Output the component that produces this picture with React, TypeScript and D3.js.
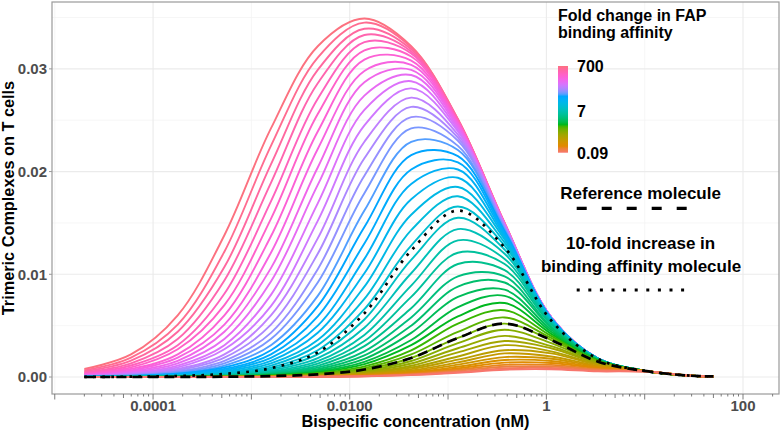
import * as d3 from "d3";

// Bispecific concentration (nM) at which every curve was read
const concentrations = [2e-5, 5.96e-5, 1.78e-4, 5.31e-4, 1.58e-3, 4.73e-3, 0.0141, 0.0422, 0.126, 0.376, 1.12, 3.35, 10, 29.9, 50];

// fold change in FAP binding affinity, one per curve (lowest first)
const foldChanges = [
  0.0935, 0.1122, 0.1346, 0.1615, 0.1938, 0.2326, 0.2791, 0.3349, 0.4019, 0.4823,
  0.5787, 0.6944, 0.8333, 1, 1.2, 1.44, 1.728, 2.074, 2.488, 2.986,
  3.583, 4.3, 5.16, 6.192, 7.43, 8.916, 10.7, 12.84, 15.41, 18.49,
  22.19, 26.62, 31.95, 38.34, 46.0, 55.21, 66.25, 79.5, 95.4, 114.5,
  137.4, 164.8, 197.8, 237.4, 284.9, 341.8, 410.2, 492.2, 590.7, 708.8,
];

// trimeric complexes on T cells, in units of 1e-4, same order as foldChanges
const complexes = [
  [0, 0, 0, 0, 0.1, 0.2, 0.7, 1.8, 4.1, 7.1, 7.5, 5.5, 5.3, 1.2, 0.5],
  [0, 0, 0, 0, 0.1, 0.3, 0.8, 2.2, 4.9, 8.4, 8.8, 6.2, 5.4, 1.2, 0.6],
  [0, 0, 0, 0, 0.1, 0.4, 1.0, 2.6, 5.9, 10.0, 10.2, 7.0, 5.5, 1.2, 0.6],
  [0, 0, 0, 0, 0.1, 0.4, 1.2, 3.1, 7.1, 11.8, 11.8, 7.8, 5.6, 1.2, 0.6],
  [0, 0, 0, 0.1, 0.2, 0.5, 1.4, 3.8, 8.4, 14.0, 13.6, 8.6, 5.7, 1.2, 0.6],
  [0, 0, 0, 0.1, 0.2, 0.6, 1.7, 4.5, 10.0, 16.5, 15.6, 9.4, 5.7, 1.2, 0.6],
  [0, 0, 0, 0.1, 0.2, 0.7, 2.1, 5.4, 12.0, 19.4, 17.8, 10.2, 5.8, 1.2, 0.6],
  [0, 0, 0, 0.1, 0.3, 0.9, 2.5, 6.4, 14.2, 23, 20, 11.0, 5.8, 1.2, 0.6],
  [0, 0, 0, 0.1, 0.4, 1.0, 3.0, 7.7, 16.9, 26, 23, 11.8, 5.8, 1.2, 0.6],
  [0, 0, 0, 0.1, 0.4, 1.3, 3.6, 9.2, 20, 31, 25, 12.5, 5.9, 1.2, 0.6],
  [0, 0, 0.1, 0.2, 0.5, 1.5, 4.3, 11.0, 24, 35, 28, 13.2, 5.9, 1.2, 0.6],
  [0, 0, 0.1, 0.2, 0.6, 1.8, 5.1, 13.1, 28, 40, 30, 13.8, 5.9, 1.2, 0.6],
  [0, 0, 0.1, 0.2, 0.7, 2.2, 6.1, 15.6, 33, 46, 33, 14.4, 5.9, 1.2, 0.6],
  [0, 0, 0.1, 0.3, 0.9, 2.6, 7.3, 18.5, 38, 52, 36, 14.9, 5.9, 1.2, 0.6],
  [0, 0, 0.1, 0.4, 1.1, 3.1, 8.7, 22, 44, 58, 38, 15.3, 5.9, 1.2, 0.6],
  [0, 0.1, 0.1, 0.4, 1.3, 3.7, 10.4, 26, 52, 65, 40, 15.7, 6.0, 1.2, 0.6],
  [0, 0.1, 0.2, 0.5, 1.5, 4.4, 12.5, 31, 59, 72, 42, 16.0, 6.0, 1.2, 0.6],
  [0, 0.1, 0.2, 0.6, 1.8, 5.3, 14.8, 36, 68, 79, 44, 16.3, 6.0, 1.2, 0.6],
  [0, 0.1, 0.2, 0.7, 2.2, 6.4, 17.7, 43, 78, 85, 46, 16.6, 6.0, 1.2, 0.6],
  [0, 0.1, 0.3, 0.9, 2.6, 7.6, 21, 50, 88, 92, 48, 16.8, 6.0, 1.2, 0.6],
  [0, 0.1, 0.4, 1.1, 3.1, 9.1, 25, 58, 98, 98, 49, 17.0, 6.0, 1.2, 0.6],
  [0, 0.1, 0.4, 1.3, 3.8, 10.9, 30, 67, 110, 104, 51, 17.2, 6.0, 1.2, 0.6],
  [0.1, 0.2, 0.5, 1.5, 4.5, 13.0, 35, 78, 121, 110, 52, 17.3, 6.0, 1.2, 0.6],
  [0.1, 0.2, 0.6, 1.8, 5.4, 15.5, 41, 89, 133, 115, 53, 17.4, 6.0, 1.2, 0.6],
  [0.1, 0.2, 0.7, 2.2, 6.5, 18.4, 48, 101, 144, 120, 53, 17.5, 6.0, 1.2, 0.6],
  [0.1, 0.3, 0.9, 2.6, 7.7, 22, 56, 114, 155, 124, 54, 17.6, 6.0, 1.2, 0.6],
  [0.1, 0.4, 1.1, 3.2, 9.2, 26, 66, 128, 166, 128, 55, 17.7, 6.0, 1.2, 0.6],
  [0.1, 0.4, 1.3, 3.8, 11.0, 31, 76, 143, 176, 131, 55, 17.7, 6.0, 1.2, 0.6],
  [0.2, 0.5, 1.5, 4.5, 13.2, 36, 88, 158, 185, 134, 56, 17.8, 6.0, 1.2, 0.6],
  [0.2, 0.6, 1.8, 5.4, 15.7, 43, 101, 173, 194, 136, 56, 17.8, 6.0, 1.2, 0.6],
  [0.2, 0.7, 2.2, 6.5, 18.7, 50, 115, 188, 202, 138, 56, 17.8, 6.0, 1.2, 0.6],
  [0.3, 0.9, 2.6, 7.8, 22, 59, 130, 202, 209, 140, 57, 17.9, 6.0, 1.2, 0.6],
  [0.4, 1.1, 3.2, 9.3, 26, 69, 146, 216, 215, 142, 57, 17.9, 6.0, 1.2, 0.6],
  [0.4, 1.3, 3.8, 11.1, 31, 79, 162, 229, 221, 143, 57, 17.9, 6.0, 1.2, 0.6],
  [0.5, 1.5, 4.6, 13.3, 37, 92, 179, 242, 225, 144, 57, 17.9, 6.0, 1.2, 0.6],
  [0.6, 1.8, 5.4, 15.8, 43, 105, 196, 253, 230, 145, 57, 17.9, 6.0, 1.2, 0.6],
  [0.7, 2.2, 6.5, 18.8, 51, 120, 213, 263, 233, 146, 57, 17.9, 6.0, 1.2, 0.6],
  [0.9, 2.7, 7.8, 22, 60, 135, 229, 272, 236, 147, 58, 18.0, 6.0, 1.2, 0.6],
  [1.1, 3.2, 9.3, 27, 69, 152, 245, 281, 239, 147, 58, 18.0, 6.0, 1.2, 0.6],
  [1.3, 3.8, 11.1, 31, 80, 169, 260, 288, 241, 148, 58, 18.0, 6.0, 1.2, 0.6],
  [1.5, 4.6, 13.3, 37, 93, 187, 274, 294, 243, 148, 58, 18.0, 6.0, 1.2, 0.6],
  [1.8, 5.5, 15.8, 44, 106, 204, 287, 299, 245, 148, 58, 18.0, 6.0, 1.2, 0.6],
  [2.2, 6.5, 18.9, 51, 121, 222, 298, 304, 246, 149, 58, 18.0, 6.0, 1.2, 0.6],
  [2.7, 7.8, 22, 60, 137, 239, 309, 308, 247, 149, 58, 18.0, 6.0, 1.2, 0.6],
  [3.2, 9.3, 27, 70, 154, 256, 318, 312, 248, 149, 58, 18.0, 6.0, 1.2, 0.6],
  [3.8, 11.2, 31, 81, 171, 271, 326, 315, 249, 149, 58, 18.0, 6.0, 1.2, 0.6],
  [4.6, 13.3, 37, 94, 189, 286, 333, 317, 250, 149, 58, 18.0, 6.0, 1.2, 0.6],
  [5.5, 15.9, 44, 107, 207, 299, 339, 319, 250, 149, 58, 18.0, 6.0, 1.2, 0.6],
  [6.5, 18.9, 51, 122, 225, 311, 345, 321, 251, 150, 58, 18.0, 6.0, 1.2, 0.6],
  [7.8, 22, 60, 138, 242, 322, 349, 322, 251, 150, 58, 18.0, 6.0, 1.2, 0.6],
];

// black overlay curves, same units
const referenceMolecule = [0, 0, 0.1, 0.3, 0.9, 2.6, 7.3, 18.5, 38, 52, 36, 14.9, 5.9, 1.2, 0.6];
const tenFoldMolecule = [0.1, 0.3, 1.0, 3.0, 8.6, 24, 62, 123, 162, 126, 55, 17.6, 6.0, 1.2, 0.6];

const VALUE_UNIT = 1e-4;

const yTicks = [0, 0.01, 0.02, 0.03];
const yMinorTicks = [0.005, 0.015, 0.025, 0.035];
const xTicks = [1e-4, 1e-2, 1, 100];
const xTickLabels = ["0.0001", "0.0100", "1", "100"];
const xMinorTicks = [1e-5, 1e-3, 0.1, 10];
const logTickDecades = [1e-5, 1e-4, 1e-3, 1e-2, 0.1, 1, 10, 100];
const logTickSteps = [1, 2, 3, 4, 5, 6, 7, 8, 9];
const legendBreaks = [0.09, 7, 700];
const legendBreakLabels = ["0.09", "7", "700"];

const W = 782;
const H = 432;
const FONT = "'Liberation Sans', Arial, Helvetica, sans-serif";

// R / ggplot style hcl() colour (polar CIE-LUV) to hex
function hclColor(h: number, c = 100, l = 65): string {
  const hr = (h * Math.PI) / 180;
  const U = c * Math.cos(hr);
  const V = c * Math.sin(hr);
  const Xn = 95.047, Yn = 100, Zn = 108.883;
  const un = (4 * Xn) / (Xn + 15 * Yn + 3 * Zn);
  const vn = (9 * Yn) / (Xn + 15 * Yn + 3 * Zn);
  const Y = l > 8 ? Yn * Math.pow((l + 16) / 116, 3) : (Yn * l) / 903.3;
  const u = U / (13 * l) + un;
  const v = V / (13 * l) + vn;
  const X = (9 * Y * u) / (4 * v);
  const Z = -X / 3 - 5 * Y + (3 * Y) / v;
  const lin = [
    3.240479 * X - 1.53715 * Y - 0.498535 * Z,
    -0.969256 * X + 1.875992 * Y + 0.041556 * Z,
    0.055648 * X - 0.204043 * Y + 1.057311 * Z,
  ].map((t) => t / 100);
  const gam = (t: number) => {
    const s = Math.max(0, Math.min(1, t));
    return s <= 0.0031308 ? 12.92 * s : 1.055 * Math.pow(s, 1 / 2.4) - 0.055;
  };
  const [r, g, b] = lin.map((t) => Math.round(gam(t) * 255));
  return d3.rgb(r, g, b).formatHex();
}

export default function App() {
  const panel = { left: 52, right: 779, top: 2, bottom: 394 };

  const x = d3.scaleLog().domain([10 ** -5.028, 10 ** 2.366]).range([panel.left, panel.right]);
  const y = d3.scaleLinear().domain([-0.001655, 0.03651]).range([panel.bottom, panel.top]);

  const hue = d3
    .scaleLog()
    .domain([foldChanges[0], foldChanges[foldChanges.length - 1]])
    .range([15, 15 + (360 * (foldChanges.length - 1)) / foldChanges.length]);

  const line = d3
    .line<[number, number]>()
    .x((d) => x(d[0]))
    .y((d) => y(d[1] * VALUE_UNIT))
    .curve(d3.curveCatmullRom.alpha(0.5));

  const toPoints = (vals: number[]) => vals.map((v, i) => [concentrations[i], v] as [number, number]);

  // legend colour bar
  const bar = { x: 558, w: 10, top: 66, bottom: 152.7 };
  const legendY = d3
    .scaleLog()
    .domain([foldChanges[0], foldChanges[foldChanges.length - 1]])
    .range([bar.bottom, bar.top]);
  const gradStops = d3.range(0, 41).map((i) => i / 40);
  const [h0, h1] = hue.range();

  // log ticks under the x axis
  const logTicks = logTickDecades
    .flatMap((dec) => logTickSteps.map((s) => ({ v: dec * s, s })))
    .filter((t) => x(t.v) >= panel.left && x(t.v) <= panel.right);

  const order = d3.range(complexes.length).reverse();

  return (
    <svg
      width={W}
      height={H}
      style={{ position: "absolute", left: 0, top: 0, background: "#fff" }}
      fontFamily={FONT}
    >
      <defs>
        <linearGradient id="foldBar" x1="0" y1="1" x2="0" y2="0">
          {gradStops.map((t) => (
            <stop key={t} offset={t} stopColor={hclColor(h0 + t * (h1 - h0))} />
          ))}
        </linearGradient>
        <clipPath id="panelClip">
          <rect x={panel.left} y={panel.top} width={panel.right - panel.left} height={panel.bottom - panel.top} />
        </clipPath>
      </defs>
      <rect width={W} height={H} fill="#fff" />

      {/* grid */}
      <g>
        {yMinorTicks.map((t) => (
          <line key={"ym" + t} x1={panel.left} x2={panel.right} y1={y(t)} y2={y(t)} stroke="#f2f2f2" strokeWidth={0.7} />
        ))}
        {xMinorTicks.map((t) => (
          <line key={"xm" + t} x1={x(t)} x2={x(t)} y1={panel.top} y2={panel.bottom} stroke="#f2f2f2" strokeWidth={0.7} />
        ))}
        {yTicks.map((t) => (
          <line key={"y" + t} x1={panel.left} x2={panel.right} y1={y(t)} y2={y(t)} stroke="#ebebeb" strokeWidth={1.1} />
        ))}
        {xTicks.map((t) => (
          <line key={"x" + t} x1={x(t)} x2={x(t)} y1={panel.top} y2={panel.bottom} stroke="#ebebeb" strokeWidth={1.1} />
        ))}
      </g>

      {/* curves */}
      <g clipPath="url(#panelClip)" fill="none" strokeLinejoin="round">
        {order.map((i) => (
          <path
            key={i}
            d={line(toPoints(complexes[i])) ?? ""}
            stroke={hclColor(hue(foldChanges[i]))}
            strokeWidth={1.9}
          />
        ))}
        <path d={line(toPoints(referenceMolecule)) ?? ""} stroke="#000" strokeWidth={2.7} strokeDasharray="10,6" />
        <path d={line(toPoints(tenFoldMolecule)) ?? ""} stroke="#000" strokeWidth={2.7} strokeDasharray="2.7,6.3" />
      </g>

      {/* panel border */}
      <rect
        x={panel.left}
        y={panel.top}
        width={panel.right - panel.left}
        height={panel.bottom - panel.top}
        fill="none"
        stroke="#9a9a9a"
        strokeWidth={1.2}
      />

      {/* y axis */}
      <g fontWeight="bold" fontSize={15} fill="#4d4d4d">
        {yTicks.map((t) => (
          <g key={t}>
            <line x1={panel.left - 3} x2={panel.left} y1={y(t)} y2={y(t)} stroke="#9a9a9a" strokeWidth={1} />
            <text x={panel.left - 5} y={y(t)} dy="0.36em" textAnchor="end">
              {d3.format(".2f")(t)}
            </text>
          </g>
        ))}
      </g>

      {/* x axis with log ticks */}
      <g stroke="#6e6e6e" strokeWidth={0.9}>
        {logTicks.map((t) => (
          <line
            key={t.v}
            x1={x(t.v)}
            x2={x(t.v)}
            y1={panel.bottom}
            y2={panel.bottom + (t.s === 1 ? 5.5 : t.s === 5 ? 4 : 2.5)}
          />
        ))}
      </g>
      <g fontWeight="bold" fontSize={15} fill="#4d4d4d">
        {xTicks.map((t, i) => (
          <text key={t} x={x(t)} y={panel.bottom + 16.5} textAnchor="middle">
            {xTickLabels[i]}
          </text>
        ))}
      </g>

      {/* axis titles */}
      <text x={(panel.left + panel.right) / 2} y={427} textAnchor="middle" fontWeight="bold" fontSize={16.3}>
        Bispecific concentration (nM)
      </text>
      <text
        transform={`translate(13.5,${(panel.top + panel.bottom) / 2}) rotate(-90)`}
        textAnchor="middle"
        fontWeight="bold"
        fontSize={16.3}
      >
        Trimeric Complexes on T cells
      </text>

      {/* colour legend */}
      <g fontWeight="bold">
        <text x={558} y={20.8} fontSize={16}>Fold change in FAP</text>
        <text x={558} y={37.8} fontSize={16}>binding affinity</text>
        <rect x={bar.x} y={bar.top} width={bar.w} height={bar.bottom - bar.top} fill="url(#foldBar)" />
        {legendBreaks.map((b, i) => (
          <text key={b} x={bar.x + bar.w + 9} y={legendY(b)} dy="0.36em" fontSize={16}>
            {legendBreakLabels[i]}
          </text>
        ))}
      </g>

      {/* linetype legends */}
      <g fontWeight="bold" fontSize={17} textAnchor="middle">
        <text x={640.6} y={199.3}>Reference molecule</text>
        <line x1={576.7} x2={690} y1={208.3} y2={208.3} stroke="#000" strokeWidth={3.2} strokeDasharray="10,15" />
        <text x={640.6} y={248.7}>10-fold increase in</text>
        <text x={641} y={271.7}>binding affinity molecule</text>
        <line x1={576.7} x2={692} y1={290} y2={290} stroke="#000" strokeWidth={3} strokeDasharray="3,8.6" />
      </g>
    </svg>
  );
}
